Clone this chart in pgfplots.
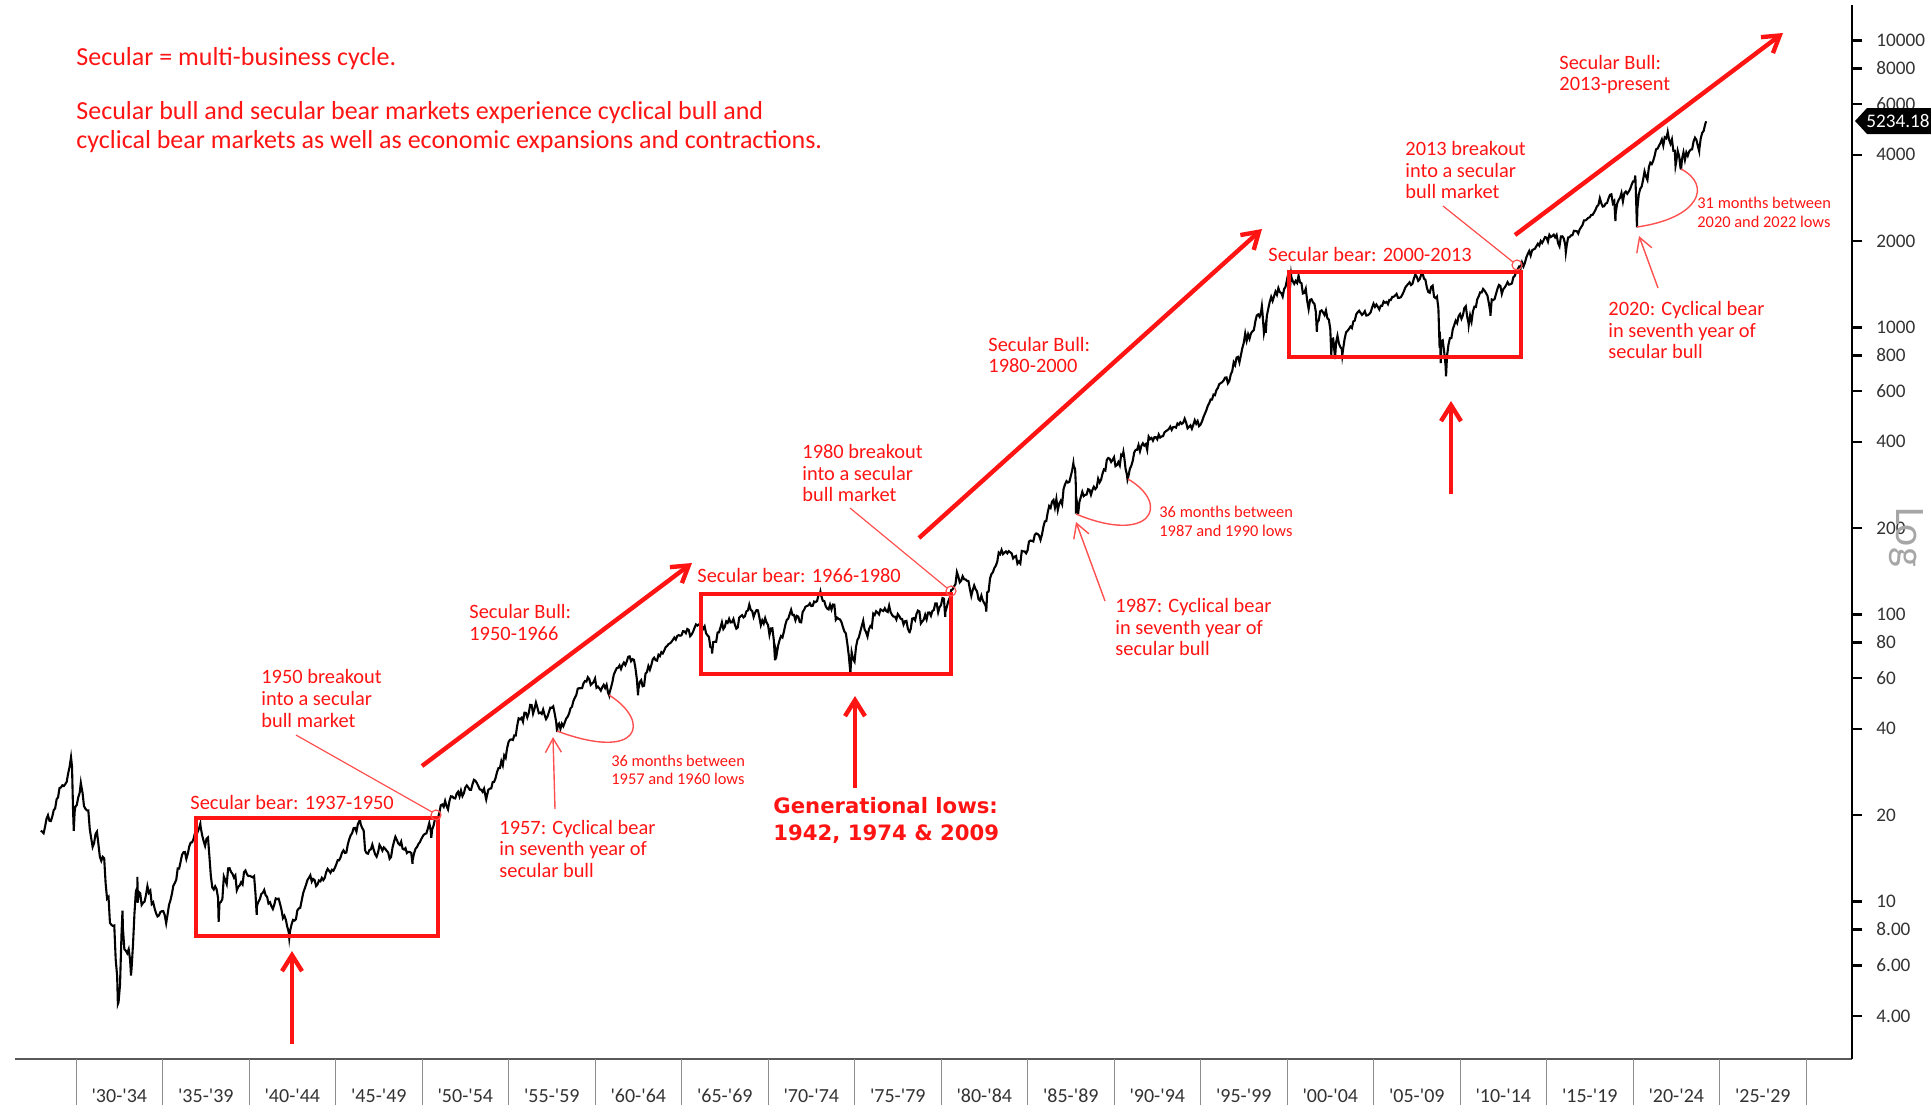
\documentclass[border=0pt]{standalone}
\usepackage{pgfplots}
\pgfplotsset{compat=1.18}
\usepackage{pgfplotstable}
\usepackage{fontspec}
\setmainfont{Carlito}
\newfontfamily\plainfont{Carlito}
\newfontfamily\dejavu{DejaVu Sans}
\usetikzlibrary{arrows.meta}
\definecolor{annred}{HTML}{FF1414}
\definecolor{thinred}{HTML}{FF5050}
\definecolor{tickgray}{HTML}{333333}

\pgfplotstableread[row sep=\\]{
Y M V\\
1927 11.5 17.66\\
1928 0.5 17.53\\ 1928 1.5 17.32\\ 1928 2.5 18.25\\ 1928 3.5 19.44\\ 1928 4.5 20.00\\ 1928 5.5 19.14\\ 1928 6.5 19.09\\ 1928 7.5 19.79\\ 1928 8.5 20.83\\ 1928 9.5 21.12\\ 1928 10.5 22.74\\ 1928 11.5 23.07\\
1929 0.5 24.86\\ 1929 1.5 24.99\\ 1929 2.5 25.43\\ 1929 3.5 25.28\\ 1929 4.5 25.66\\ 1929 5.5 26.15\\ 1929 6.5 27.95\\ 1929 7.5 29.48\\ 1929 8.5 31.86\\ 1929 9.2 29.50\\ 1929 9.9 21.00\\ 1929 10.4 17.66\\ 1929 11.0 20.50\\ 1929 11.5 21.40\\
1930 0.5 21.71\\ 1930 1.5 23.07\\ 1930 2.5 23.94\\ 1930 3.3 25.92\\ 1930 3.8 25.00\\ 1930 4.5 23.94\\ 1930 5.5 21.52\\ 1930 6.5 21.06\\ 1930 7.5 20.79\\ 1930 8.5 20.78\\ 1930 9.5 17.92\\ 1930 10.5 16.62\\ 1930 11.5 15.51\\
1931 0.5 15.98\\ 1931 1.5 17.20\\ 1931 2.5 17.53\\ 1931 3.5 15.86\\ 1931 4.5 14.33\\ 1931 5.5 13.87\\ 1931 6.5 14.33\\ 1931 7.5 14.16\\ 1931 8.5 11.59\\ 1931 9.5 10.25\\ 1931 10.5 10.39\\ 1931 11.5 8.44\\
1932 0.5 8.30\\ 1932 1.5 8.23\\ 1932 2.5 8.26\\ 1932 3.5 6.28\\ 1932 4.5 5.51\\ 1932 5.0 4.40\\ 1932 5.5 4.47\\ 1932 6.5 5.14\\ 1932 7.5 7.63\\ 1932 8.2 9.31\\ 1932 8.5 8.08\\ 1932 9.5 6.83\\ 1932 10.5 6.75\\ 1932 11.5 6.61\\
1933 0.5 6.83\\ 1933 1.5 6.25\\ 1933 2.1 5.53\\ 1933 2.5 5.85\\ 1933 3.5 7.09\\ 1933 4.5 9.08\\ 1933 5.5 10.88\\ 1933 6.5 11.19\\ 1933 6.55 12.20\\ 1933 6.7 9.90\\ 1933 7.5 10.81\\ 1933 8.5 10.68\\ 1933 9.5 9.74\\ 1933 10.5 9.91\\ 1933 11.5 10.00\\
1934 0.5 10.54\\ 1934 1.5 11.32\\ 1934 2.5 10.74\\ 1934 3.5 10.92\\ 1934 4.5 9.81\\ 1934 5.5 9.94\\ 1934 6.5 9.47\\ 1934 7.5 9.10\\ 1934 8.5 8.88\\ 1934 9.5 8.95\\ 1934 10.5 9.20\\ 1934 11.5 9.26\\
1935 0.5 9.26\\ 1935 1.5 8.98\\ 1935 2.5 8.41\\ 1935 3.5 9.04\\ 1935 4.5 9.75\\ 1935 5.5 10.12\\ 1935 6.5 10.65\\ 1935 7.5 11.37\\ 1935 8.5 11.61\\ 1935 9.5 11.92\\ 1935 10.5 13.04\\ 1935 11.5 13.04\\
1936 0.5 13.76\\ 1936 1.5 14.55\\ 1936 2.5 14.86\\ 1936 3.5 14.88\\ 1936 4.5 14.09\\ 1936 5.5 14.69\\ 1936 6.5 15.56\\ 1936 7.5 16.05\\ 1936 8.5 16.10\\ 1936 9.5 16.54\\ 1936 10.5 17.36\\ 1936 11.5 17.06\\
1937 0.5 17.59\\ 1937 1.5 18.11\\ 1937 2.2 18.68\\ 1937 2.5 18.09\\ 1937 3.5 17.01\\ 1937 4.5 16.25\\ 1937 5.5 15.64\\ 1937 6.5 16.57\\ 1937 7.5 16.74\\ 1937 8.5 14.37\\ 1937 9.5 12.28\\ 1937 10.5 11.20\\ 1937 11.5 11.02\\
1938 0.5 11.31\\ 1938 1.5 11.04\\ 1938 2.5 10.31\\ 1938 2.9 8.50\\ 1938 3.5 9.89\\ 1938 4.5 9.98\\ 1938 5.5 10.21\\ 1938 6.5 12.24\\ 1938 7.5 11.88\\ 1938 8.5 11.51\\ 1938 9.5 13.06\\ 1938 10.5 13.07\\ 1938 11.5 12.69\\
1939 0.5 12.50\\ 1939 1.5 12.13\\ 1939 2.5 12.34\\ 1939 3.5 10.96\\ 1939 4.5 11.26\\ 1939 5.5 11.39\\ 1939 6.5 11.68\\ 1939 7.5 11.48\\ 1939 8.5 12.67\\ 1939 9.5 12.84\\ 1939 10.5 12.47\\ 1939 11.5 12.28\\
1940 0.5 12.30\\ 1940 1.5 12.22\\ 1940 2.5 12.15\\ 1940 3.5 12.27\\ 1940 4.5 10.58\\ 1940 5.3 8.99\\ 1940 5.5 9.67\\ 1940 6.5 9.99\\ 1940 7.5 10.20\\ 1940 8.5 10.63\\ 1940 9.5 10.73\\ 1940 10.5 10.98\\ 1940 11.5 10.53\\
1941 0.5 10.39\\ 1941 1.5 9.85\\ 1941 2.5 9.95\\ 1941 3.5 9.64\\ 1941 4.5 9.43\\ 1941 5.5 9.76\\ 1941 6.5 10.26\\ 1941 7.5 10.21\\ 1941 8.5 10.24\\ 1941 9.5 9.83\\ 1941 10.5 9.37\\ 1941 11.5 8.76\\
1942 0.5 8.93\\ 1942 1.5 8.65\\ 1942 2.5 8.18\\ 1942 3.5 7.84\\ 1942 3.9 7.47\\ 1942 4.5 7.93\\ 1942 5.5 8.33\\ 1942 6.5 8.64\\ 1942 7.5 8.59\\ 1942 8.5 8.68\\ 1942 9.5 9.32\\ 1942 10.5 9.47\\ 1942 11.5 9.52\\
1943 0.5 10.09\\ 1943 1.5 10.69\\ 1943 2.5 11.07\\ 1943 3.5 11.44\\ 1943 4.5 11.89\\ 1943 5.5 12.10\\ 1943 6.5 12.35\\ 1943 7.5 11.74\\ 1943 8.5 11.99\\ 1943 9.5 11.88\\ 1943 10.5 11.33\\ 1943 11.5 11.48\\
1944 0.5 11.85\\ 1944 1.5 11.77\\ 1944 2.5 12.10\\ 1944 3.5 11.89\\ 1944 4.5 12.10\\ 1944 5.5 12.67\\ 1944 6.5 13.00\\ 1944 7.5 12.81\\ 1944 8.5 12.60\\ 1944 9.5 12.91\\ 1944 10.5 12.82\\ 1944 11.5 13.10\\
1945 0.5 13.49\\ 1945 1.5 13.94\\ 1945 2.5 13.93\\ 1945 3.5 14.28\\ 1945 4.5 14.82\\ 1945 5.5 15.09\\ 1945 6.5 14.78\\ 1945 7.5 14.83\\ 1945 8.5 15.84\\ 1945 9.5 16.50\\ 1945 10.5 17.04\\ 1945 11.5 17.33\\
1946 0.5 18.02\\ 1946 1.5 18.07\\ 1946 2.5 17.53\\ 1946 3.5 18.66\\ 1946 4.9 19.25\\ 1946 5.5 18.58\\ 1946 6.5 18.05\\ 1946 7.5 17.70\\ 1946 8.5 15.09\\ 1946 9.5 14.75\\ 1946 10.5 14.69\\ 1946 11.5 15.13\\
1947 0.5 15.21\\ 1947 1.5 15.80\\ 1947 2.5 15.16\\ 1947 3.5 14.60\\ 1947 4.5 14.34\\ 1947 5.5 14.84\\ 1947 6.5 15.77\\ 1947 7.5 15.46\\ 1947 8.5 15.06\\ 1947 9.5 15.45\\ 1947 10.5 15.27\\ 1947 11.5 15.03\\
1948 0.5 14.83\\ 1948 1.5 14.10\\ 1948 2.5 14.30\\ 1948 3.5 15.40\\ 1948 4.5 16.15\\ 1948 5.5 16.82\\ 1948 6.5 16.42\\ 1948 7.5 15.94\\ 1948 8.5 15.76\\ 1948 9.5 16.19\\ 1948 10.5 15.29\\ 1948 11.5 15.19\\
1949 0.5 15.36\\ 1949 1.5 14.77\\ 1949 2.5 14.91\\ 1949 3.5 14.89\\ 1949 4.5 14.78\\ 1949 5.4 13.55\\ 1949 5.5 13.97\\ 1949 6.5 14.76\\ 1949 7.5 15.29\\ 1949 8.5 15.49\\ 1949 9.5 15.89\\ 1949 10.5 16.11\\ 1949 11.5 16.54\\
1950 1 17.05\\ 1950 2 17.22\\ 1950 3 17.29\\ 1950 4 17.96\\ 1950 5 18.78\\ 1950 6 17.69\\ 1950 6.4 16.68\\ 1950 7 17.84\\ 1950 8 18.42\\ 1950 9 19.45\\ 1950 10 19.53\\ 1950 11 19.51\\ 1950 12 20.41\\
1951 1 21.66\\ 1951 2 21.80\\ 1951 3 21.40\\ 1951 4 22.43\\ 1951 5 21.52\\ 1951 6 20.96\\ 1951 7 22.40\\ 1951 8 23.28\\ 1951 9 23.26\\ 1951 10 22.94\\ 1951 11 22.88\\ 1951 12 23.77\\
1952 1 24.14\\ 1952 2 23.26\\ 1952 3 24.37\\ 1952 4 23.32\\ 1952 5 23.86\\ 1952 6 24.96\\ 1952 7 25.40\\ 1952 8 25.03\\ 1952 9 24.54\\ 1952 10 24.52\\ 1952 11 25.66\\ 1952 12 26.57\\
1953 1 26.38\\ 1953 2 25.90\\ 1953 3 25.29\\ 1953 4 24.62\\ 1953 5 24.54\\ 1953 6 24.14\\ 1953 7 24.75\\ 1953 8 23.32\\ 1953 8.5 22.71\\ 1953 9 23.35\\ 1953 10 24.54\\ 1953 11 24.76\\ 1953 12 24.81\\
1954 1 26.08\\ 1954 2 26.15\\ 1954 3 26.94\\ 1954 4 28.26\\ 1954 5 29.19\\ 1954 6 29.21\\ 1954 7 30.88\\ 1954 8 29.83\\ 1954 9 32.31\\ 1954 10 31.68\\ 1954 11 34.24\\ 1954 12 35.98\\
1955 1 36.63\\ 1955 2 36.76\\ 1955 3 36.58\\ 1955 4 37.96\\ 1955 5 37.91\\ 1955 6 41.03\\ 1955 7 43.52\\ 1955 8 43.18\\ 1955 9 43.67\\ 1955 10 42.34\\ 1955 11 45.51\\ 1955 12 45.48\\
1956 1 43.82\\ 1956 2 45.34\\ 1956 3 48.48\\ 1956 4 48.38\\ 1956 5 45.20\\ 1956 6 46.97\\ 1956 7 49.39\\ 1956 8 47.51\\ 1956 9 45.35\\ 1956 10 45.58\\ 1956 11 45.08\\ 1956 12 46.67\\
1957 1 44.72\\ 1957 2 43.26\\ 1957 3 44.11\\ 1957 4 45.74\\ 1957 5 47.43\\ 1957 6 47.37\\ 1957 7 47.91\\ 1957 8 45.22\\ 1957 9 42.42\\ 1957 9.7 38.98\\ 1957 10 41.06\\ 1957 11 41.72\\ 1957 12 39.99\\
1958 1 41.70\\ 1958 2 40.84\\ 1958 3 42.10\\ 1958 4 43.44\\ 1958 5 44.09\\ 1958 6 45.24\\ 1958 7 47.19\\ 1958 8 47.75\\ 1958 9 50.06\\ 1958 10 51.33\\ 1958 11 52.48\\ 1958 12 55.21\\
1959 1 55.42\\ 1959 2 55.41\\ 1959 3 55.44\\ 1959 4 57.59\\ 1959 5 58.68\\ 1959 6 58.47\\ 1959 7 60.51\\ 1959 8 59.60\\ 1959 9 56.88\\ 1959 10 57.52\\ 1959 11 58.28\\ 1959 12 59.89\\
1960 1 55.61\\ 1960 2 56.12\\ 1960 3 55.34\\ 1960 4 54.37\\ 1960 5 55.83\\ 1960 6 56.92\\ 1960 7 55.51\\ 1960 8 56.96\\ 1960 9 53.52\\ 1960 9.8 52.30\\ 1960 10 53.39\\ 1960 11 55.54\\ 1960 12 58.11\\
1961 1 61.78\\ 1961 2 63.44\\ 1961 3 65.06\\ 1961 4 65.31\\ 1961 5 66.56\\ 1961 6 64.64\\ 1961 7 66.76\\ 1961 8 68.07\\ 1961 9 66.73\\ 1961 10 68.62\\ 1961 11 71.32\\ 1961 12 71.55\\
1962 1 68.84\\ 1962 2 69.96\\ 1962 3 69.55\\ 1962 4 65.24\\ 1962 5 59.63\\ 1962 5.85 52.32\\ 1962 6 54.75\\ 1962 7 58.23\\ 1962 8 59.12\\ 1962 9 56.27\\ 1962 10 56.52\\ 1962 11 62.26\\ 1962 12 63.10\\
1963 1 66.20\\ 1963 2 64.29\\ 1963 3 66.57\\ 1963 4 69.80\\ 1963 5 70.80\\ 1963 6 69.37\\ 1963 7 69.13\\ 1963 8 72.50\\ 1963 9 71.70\\ 1963 10 74.01\\ 1963 11 73.23\\ 1963 12 75.02\\
1964 1 77.04\\ 1964 2 77.80\\ 1964 3 78.98\\ 1964 4 79.46\\ 1964 5 80.37\\ 1964 6 81.69\\ 1964 7 83.18\\ 1964 8 81.83\\ 1964 9 84.18\\ 1964 10 84.86\\ 1964 11 84.42\\ 1964 12 84.75\\
1965 1 87.56\\ 1965 2 87.43\\ 1965 3 86.16\\ 1965 4 89.11\\ 1965 5 88.42\\ 1965 6 84.12\\ 1965 7 85.25\\ 1965 8 87.17\\ 1965 9 89.96\\ 1965 10 92.42\\ 1965 11 91.61\\ 1965 12 92.43\\
1966 1 92.88\\ 1966 1.3 94.06\\ 1966 2 91.22\\ 1966 3 89.23\\ 1966 4 91.06\\ 1966 5 86.13\\ 1966 6 84.74\\ 1966 7 83.60\\ 1966 8 77.10\\ 1966 9 76.56\\ 1966 9.2 73.20\\ 1966 10 80.20\\ 1966 11 80.45\\ 1966 12 80.33\\
1967 1 86.61\\ 1967 2 86.78\\ 1967 3 90.20\\ 1967 4 94.01\\ 1967 5 89.08\\ 1967 6 90.64\\ 1967 7 94.75\\ 1967 8 93.64\\ 1967 9 96.71\\ 1967 10 93.90\\ 1967 11 94.00\\ 1967 12 96.47\\
1968 1 92.24\\ 1968 2 89.36\\ 1968 3 90.20\\ 1968 4 97.59\\ 1968 5 98.68\\ 1968 6 99.58\\ 1968 7 97.74\\ 1968 8 98.86\\ 1968 9 102.67\\ 1968 10 103.41\\ 1968 11 108.37\\ 1968 12 103.86\\
1969 1 103.01\\ 1969 2 98.13\\ 1969 3 101.51\\ 1969 4 103.69\\ 1969 5 103.46\\ 1969 6 97.71\\ 1969 7 91.83\\ 1969 8 95.51\\ 1969 9 93.12\\ 1969 10 97.24\\ 1969 11 93.81\\ 1969 12 92.06\\
1970 1 85.02\\ 1970 2 89.50\\ 1970 3 89.63\\ 1970 4 81.52\\ 1970 4.85 69.29\\ 1970 5 76.55\\ 1970 6 72.72\\ 1970 7 78.05\\ 1970 8 81.52\\ 1970 9 84.21\\ 1970 10 83.25\\ 1970 11 87.20\\ 1970 12 92.15\\
1971 1 95.88\\ 1971 2 96.75\\ 1971 3 100.31\\ 1971 4 103.95\\ 1971 5 99.63\\ 1971 6 99.70\\ 1971 7 95.58\\ 1971 8 99.03\\ 1971 9 98.34\\ 1971 10 94.23\\ 1971 11 93.99\\ 1971 12 102.09\\
1972 1 103.94\\ 1972 2 106.57\\ 1972 3 107.20\\ 1972 4 107.67\\ 1972 5 109.53\\ 1972 6 107.14\\ 1972 7 107.39\\ 1972 8 111.09\\ 1972 9 110.55\\ 1972 10 111.58\\ 1972 11 116.67\\ 1972 12 118.05\\
1973 0.35 120.24\\ 1973 1 116.03\\ 1973 2 111.68\\ 1973 3 111.52\\ 1973 4 106.97\\ 1973 5 104.95\\ 1973 6 104.26\\ 1973 7 108.22\\ 1973 8 104.25\\ 1973 9 108.43\\ 1973 10 108.29\\ 1973 11 95.96\\ 1973 12 97.55\\
1974 1 96.57\\ 1974 2 96.22\\ 1974 3 93.98\\ 1974 4 90.31\\ 1974 5 87.28\\ 1974 6 86.00\\ 1974 7 79.31\\ 1974 8 72.15\\ 1974 9 63.54\\ 1974 9.1 62.28\\ 1974 10 73.90\\ 1974 11 69.97\\ 1974 12 68.56\\
1975 1 76.98\\ 1975 2 81.59\\ 1975 3 83.36\\ 1975 4 87.30\\ 1975 5 91.15\\ 1975 6 95.19\\ 1975 7 88.75\\ 1975 8 86.88\\ 1975 9 83.87\\ 1975 10 89.04\\ 1975 11 91.24\\ 1975 12 90.19\\
1976 1 100.86\\ 1976 2 99.71\\ 1976 3 102.77\\ 1976 4 101.64\\ 1976 5 100.18\\ 1976 6 104.28\\ 1976 7 103.44\\ 1976 8 102.91\\ 1976 9 105.24\\ 1976 10 102.90\\ 1976 11 102.10\\ 1976 12 107.46\\
1977 1 102.03\\ 1977 2 99.82\\ 1977 3 98.42\\ 1977 4 98.44\\ 1977 5 96.12\\ 1977 6 100.48\\ 1977 7 98.85\\ 1977 8 96.77\\ 1977 9 96.53\\ 1977 10 92.34\\ 1977 11 94.83\\ 1977 12 95.10\\
1978 1 89.25\\ 1978 2 87.04\\ 1978 2.2 86.90\\ 1978 3 89.21\\ 1978 4 96.83\\ 1978 5 97.24\\ 1978 6 95.53\\ 1978 7 100.68\\ 1978 8 103.29\\ 1978 9 102.54\\ 1978 10 93.15\\ 1978 11 94.70\\ 1978 12 96.11\\
1979 1 99.93\\ 1979 2 96.28\\ 1979 3 101.59\\ 1979 4 101.76\\ 1979 5 99.08\\ 1979 6 102.91\\ 1979 7 103.81\\ 1979 8 109.32\\ 1979 9 109.32\\ 1979 10 101.82\\ 1979 11 106.16\\ 1979 12 107.94\\
1980 1 114.16\\ 1980 2 113.66\\ 1980 2.9 98.22\\ 1980 3 102.09\\ 1980 4 106.29\\ 1980 5 111.24\\ 1980 6 114.24\\ 1980 7 121.67\\ 1980 8 122.38\\ 1980 9 125.46\\ 1980 10 127.47\\ 1980 11 140.52\\ 1980 12 135.76\\
1981 1 129.55\\ 1981 2 131.27\\ 1981 3 136.00\\ 1981 4 132.81\\ 1981 5 132.59\\ 1981 6 131.21\\ 1981 7 130.92\\ 1981 8 122.79\\ 1981 9 116.18\\ 1981 10 121.89\\ 1981 11 126.35\\ 1981 12 122.55\\
1982 1 120.40\\ 1982 2 113.11\\ 1982 3 111.96\\ 1982 4 116.44\\ 1982 5 111.88\\ 1982 6 109.61\\ 1982 7 107.09\\ 1982 7.4 102.42\\ 1982 8 119.51\\ 1982 9 120.42\\ 1982 10 133.71\\ 1982 11 138.54\\ 1982 12 140.64\\
1983 1 145.30\\ 1983 2 148.06\\ 1983 3 152.96\\ 1983 4 164.42\\ 1983 5 162.39\\ 1983 6 168.11\\ 1983 7 162.56\\ 1983 8 164.40\\ 1983 9 166.07\\ 1983 10 163.55\\ 1983 11 166.40\\ 1983 12 164.93\\
1984 1 163.41\\ 1984 2 157.06\\ 1984 3 159.18\\ 1984 4 160.05\\ 1984 5 150.55\\ 1984 6 153.18\\ 1984 7 150.66\\ 1984 8 166.68\\ 1984 9 166.10\\ 1984 10 166.09\\ 1984 11 163.58\\ 1984 12 167.24\\
1985 1 179.63\\ 1985 2 181.18\\ 1985 3 180.66\\ 1985 4 179.83\\ 1985 5 189.55\\ 1985 6 191.85\\ 1985 7 190.92\\ 1985 8 188.63\\ 1985 9 182.08\\ 1985 10 189.82\\ 1985 11 202.17\\ 1985 12 211.28\\
1986 1 211.78\\ 1986 2 226.92\\ 1986 3 238.90\\ 1986 4 235.52\\ 1986 5 247.35\\ 1986 6 250.84\\ 1986 7 236.12\\ 1986 8 252.93\\ 1986 9 231.32\\ 1986 10 243.98\\ 1986 11 249.22\\ 1986 12 242.17\\
1987 1 274.08\\ 1987 2 284.20\\ 1987 3 291.70\\ 1987 4 288.36\\ 1987 5 290.10\\ 1987 6 304.00\\ 1987 7 318.66\\ 1987 7.8 336.77\\ 1987 8 329.80\\ 1987 9 321.83\\ 1987 9.5 282.70\\ 1987 9.6 224.84\\ 1987 9.7 258.38\\ 1987 10 251.79\\ 1987 11 230.30\\ 1987 11.1 223.92\\ 1987 12 247.08\\
1988 1 257.07\\ 1988 2 267.82\\ 1988 3 258.89\\ 1988 4 261.33\\ 1988 5 262.16\\ 1988 6 273.50\\ 1988 7 272.02\\ 1988 8 261.52\\ 1988 9 271.91\\ 1988 10 278.97\\ 1988 11 273.70\\ 1988 12 277.72\\
1989 1 297.47\\ 1989 2 288.86\\ 1989 3 294.87\\ 1989 4 309.64\\ 1989 5 320.52\\ 1989 6 317.98\\ 1989 7 346.08\\ 1989 8 351.45\\ 1989 9 349.15\\ 1989 10 340.36\\ 1989 11 345.99\\ 1989 12 353.40\\
1990 1 329.08\\ 1990 2 331.89\\ 1990 3 339.94\\ 1990 4 330.80\\ 1990 5 361.23\\ 1990 6 358.02\\ 1990 6.5 368.95\\ 1990 7 356.15\\ 1990 8 322.56\\ 1990 9 306.05\\ 1990 9.35 295.46\\ 1990 10 304.00\\ 1990 11 322.22\\ 1990 12 330.22\\
1991 1 343.93\\ 1991 2 367.07\\ 1991 3 375.22\\ 1991 4 375.35\\ 1991 5 389.83\\ 1991 6 371.16\\ 1991 7 387.81\\ 1991 8 395.43\\ 1991 9 387.86\\ 1991 10 392.46\\ 1991 11 375.22\\ 1991 12 417.09\\
1992 1 408.79\\ 1992 2 412.70\\ 1992 3 403.69\\ 1992 4 414.95\\ 1992 5 415.35\\ 1992 6 408.14\\ 1992 7 424.21\\ 1992 8 414.03\\ 1992 9 417.80\\ 1992 10 418.68\\ 1992 11 431.35\\ 1992 12 435.71\\
1993 1 438.78\\ 1993 2 443.38\\ 1993 3 451.67\\ 1993 4 440.19\\ 1993 5 450.19\\ 1993 6 450.53\\ 1993 7 448.13\\ 1993 8 463.56\\ 1993 9 458.93\\ 1993 10 467.83\\ 1993 11 461.79\\ 1993 12 466.45\\
1994 1 481.61\\ 1994 2 467.14\\ 1994 3 445.77\\ 1994 4 450.91\\ 1994 5 456.50\\ 1994 6 444.27\\ 1994 7 458.26\\ 1994 8 475.49\\ 1994 9 462.69\\ 1994 10 472.35\\ 1994 11 453.69\\ 1994 12 459.27\\
1995 1 470.42\\ 1995 2 487.39\\ 1995 3 500.71\\ 1995 4 514.71\\ 1995 5 533.40\\ 1995 6 544.75\\ 1995 7 562.06\\ 1995 8 561.88\\ 1995 9 584.41\\ 1995 10 581.50\\ 1995 11 605.37\\ 1995 12 615.93\\
1996 1 636.02\\ 1996 2 640.43\\ 1996 3 645.50\\ 1996 4 654.17\\ 1996 5 669.12\\ 1996 6 670.63\\ 1996 7 639.95\\ 1996 8 651.99\\ 1996 9 687.31\\ 1996 10 705.27\\ 1996 11 757.02\\ 1996 12 740.74\\
1997 1 786.16\\ 1997 2 790.82\\ 1997 3 757.12\\ 1997 4 801.34\\ 1997 5 848.28\\ 1997 6 885.14\\ 1997 7 954.29\\ 1997 8 899.47\\ 1997 9 947.28\\ 1997 10 914.62\\ 1997 11 955.40\\ 1997 12 970.43\\
1998 1 980.28\\ 1998 2 1049.34\\ 1998 3 1101.75\\ 1998 4 1111.75\\ 1998 5 1090.82\\ 1998 6 1133.84\\ 1998 6.55 1186.75\\ 1998 7 1120.67\\ 1998 8 957.28\\ 1998 9 1017.01\\ 1998 9.25 959.44\\ 1998 10 1098.67\\ 1998 11 1163.63\\ 1998 12 1229.23\\
1999 1 1279.64\\ 1999 2 1238.33\\ 1999 3 1286.37\\ 1999 4 1335.18\\ 1999 5 1301.84\\ 1999 6 1372.71\\ 1999 7 1328.72\\ 1999 8 1320.41\\ 1999 9 1282.71\\ 1999 10 1362.93\\ 1999 11 1388.91\\ 1999 12 1469.25\\
2000 1 1394.46\\ 2000 2 1366.42\\ 2000 2.8 1527.46\\ 2000 3 1498.58\\ 2000 4 1452.43\\ 2000 5 1420.60\\ 2000 6 1454.60\\ 2000 7 1430.83\\ 2000 8 1517.68\\ 2000 9 1436.51\\ 2000 10 1429.40\\ 2000 11 1314.95\\ 2000 12 1320.28\\
2001 1 1366.01\\ 2001 2 1239.94\\ 2001 3 1160.33\\ 2001 4 1249.46\\ 2001 5 1255.82\\ 2001 6 1224.38\\ 2001 7 1211.23\\ 2001 8 1133.58\\ 2001 8.7 965.80\\ 2001 9 1040.94\\ 2001 10 1059.78\\ 2001 11 1139.45\\ 2001 12 1148.08\\
2002 1 1130.20\\ 2002 2 1106.73\\ 2002 3 1147.39\\ 2002 4 1076.92\\ 2002 5 1067.14\\ 2002 6 989.82\\ 2002 6.75 797.70\\ 2002 7 911.62\\ 2002 8 916.07\\ 2002 9 815.28\\ 2002 9.3 776.76\\ 2002 10 885.76\\ 2002 11 936.31\\ 2002 12 879.82\\
2003 1 855.70\\ 2003 2 841.15\\ 2003 2.35 800.73\\ 2003 3 848.18\\ 2003 4 916.92\\ 2003 5 963.59\\ 2003 6 974.50\\ 2003 7 990.31\\ 2003 8 1008.01\\ 2003 9 995.97\\ 2003 10 1050.71\\ 2003 11 1058.20\\ 2003 12 1111.92\\
2004 1 1131.13\\ 2004 2 1144.94\\ 2004 3 1126.21\\ 2004 4 1107.30\\ 2004 5 1120.68\\ 2004 6 1140.84\\ 2004 7 1101.72\\ 2004 8 1104.24\\ 2004 9 1114.58\\ 2004 10 1130.20\\ 2004 11 1173.82\\ 2004 12 1211.92\\
2005 1 1181.27\\ 2005 2 1203.60\\ 2005 3 1180.59\\ 2005 4 1156.85\\ 2005 5 1191.50\\ 2005 6 1191.33\\ 2005 7 1234.18\\ 2005 8 1220.33\\ 2005 9 1228.81\\ 2005 10 1207.01\\ 2005 11 1249.48\\ 2005 12 1248.29\\
2006 1 1280.08\\ 2006 2 1280.66\\ 2006 3 1294.83\\ 2006 4 1310.61\\ 2006 5 1270.09\\ 2006 6 1270.20\\ 2006 7 1276.66\\ 2006 8 1303.82\\ 2006 9 1335.85\\ 2006 10 1377.94\\ 2006 11 1400.63\\ 2006 12 1418.30\\
2007 1 1438.24\\ 2007 2 1406.82\\ 2007 3 1420.86\\ 2007 4 1482.37\\ 2007 5 1530.62\\ 2007 6 1503.35\\ 2007 7 1455.27\\ 2007 8 1473.99\\ 2007 9 1526.75\\ 2007 9.3 1565.15\\ 2007 10 1549.38\\ 2007 11 1481.14\\ 2007 12 1468.36\\
2008 1 1378.55\\ 2008 2 1330.63\\ 2008 3 1322.70\\ 2008 4 1385.59\\ 2008 5 1400.38\\ 2008 6 1280.00\\ 2008 7 1267.38\\ 2008 8 1282.83\\ 2008 9 1166.36\\ 2008 9.85 848.92\\ 2008 10 968.75\\ 2008 10.65 752.44\\ 2008 11 896.24\\ 2008 12 903.25\\
2009 1 825.88\\ 2009 2 735.09\\ 2009 2.3 676.53\\ 2009 3 797.87\\ 2009 4 872.81\\ 2009 5 919.14\\ 2009 6 919.32\\ 2009 7 987.48\\ 2009 8 1020.62\\ 2009 9 1057.08\\ 2009 10 1036.19\\ 2009 11 1095.63\\ 2009 12 1115.10\\
2010 1 1073.87\\ 2010 2 1104.49\\ 2010 3 1169.43\\ 2010 4 1186.69\\ 2010 5 1089.41\\ 2010 6 1030.71\\ 2010 6.05 1022.58\\ 2010 7 1101.60\\ 2010 8 1049.33\\ 2010 9 1141.20\\ 2010 10 1183.26\\ 2010 11 1180.55\\ 2010 12 1257.64\\
2011 1 1286.12\\ 2011 2 1327.22\\ 2011 3 1325.83\\ 2011 4 1363.61\\ 2011 5 1345.20\\ 2011 6 1320.64\\ 2011 7 1292.28\\ 2011 8 1218.89\\ 2011 9 1131.42\\ 2011 9.1 1099.23\\ 2011 10 1253.30\\ 2011 11 1246.96\\ 2011 12 1257.60\\
2012 1 1312.41\\ 2012 2 1365.68\\ 2012 3 1408.47\\ 2012 4 1397.91\\ 2012 5 1310.33\\ 2012 6 1362.16\\ 2012 7 1379.32\\ 2012 8 1406.58\\ 2012 9 1440.67\\ 2012 10 1412.16\\ 2012 11 1416.18\\ 2012 12 1426.19\\
2013 1 1498.11\\ 2013 2 1514.68\\ 2013 3 1569.19\\ 2013 4 1597.57\\ 2013 5 1630.74\\ 2013 6 1606.28\\ 2013 7 1685.73\\ 2013 8 1632.97\\ 2013 9 1681.55\\ 2013 10 1756.54\\ 2013 11 1805.81\\ 2013 12 1848.36\\
2014 1 1782.59\\ 2014 2 1859.45\\ 2014 3 1872.34\\ 2014 4 1883.95\\ 2014 5 1923.57\\ 2014 6 1960.23\\ 2014 7 1930.67\\ 2014 8 2003.37\\ 2014 9 1972.29\\ 2014 10 2018.05\\ 2014 11 2067.56\\ 2014 12 2058.90\\
2015 1 1994.99\\ 2015 2 2104.50\\ 2015 3 2067.89\\ 2015 4 2085.51\\ 2015 5 2107.39\\ 2015 6 2063.11\\ 2015 7 2103.84\\ 2015 8 1972.18\\ 2015 9 1920.03\\ 2015 10 2079.36\\ 2015 11 2080.41\\ 2015 12 2043.94\\
2016 1 1940.24\\ 2016 1.4 1829.08\\ 2016 2 1932.23\\ 2016 3 2059.74\\ 2016 4 2065.30\\ 2016 5 2096.95\\ 2016 6 2098.86\\ 2016 7 2173.60\\ 2016 8 2170.95\\ 2016 9 2168.27\\ 2016 10 2126.15\\ 2016 11 2198.81\\ 2016 12 2238.83\\
2017 1 2278.87\\ 2017 2 2363.64\\ 2017 3 2362.72\\ 2017 4 2384.20\\ 2017 5 2411.80\\ 2017 6 2423.41\\ 2017 7 2470.30\\ 2017 8 2471.65\\ 2017 9 2519.36\\ 2017 10 2575.26\\ 2017 11 2647.58\\ 2017 12 2673.61\\
2018 1 2823.81\\ 2018 2 2713.83\\ 2018 3 2640.87\\ 2018 4 2648.05\\ 2018 5 2705.27\\ 2018 6 2718.37\\ 2018 7 2816.29\\ 2018 8 2901.52\\ 2018 9 2913.98\\ 2018 10 2711.74\\ 2018 11 2760.17\\ 2018 11.8 2351.10\\ 2018 12 2506.85\\
2019 1 2704.10\\ 2019 2 2784.49\\ 2019 3 2834.40\\ 2019 4 2945.83\\ 2019 5 2752.06\\ 2019 6 2941.76\\ 2019 7 2980.38\\ 2019 8 2926.46\\ 2019 9 2976.74\\ 2019 10 3037.56\\ 2019 11 3140.98\\ 2019 12 3230.78\\
2020 1 3225.52\\ 2020 1.6 3386.15\\ 2020 2 2954.22\\ 2020 2.75 2237.40\\ 2020 3 2584.59\\ 2020 4 2912.43\\ 2020 5 3044.31\\ 2020 6 3100.29\\ 2020 7 3271.12\\ 2020 8 3500.31\\ 2020 9 3363.00\\ 2020 10 3269.96\\ 2020 11 3621.63\\ 2020 12 3756.07\\
2021 1 3714.24\\ 2021 2 3811.15\\ 2021 3 3972.89\\ 2021 4 4181.17\\ 2021 5 4204.11\\ 2021 6 4297.50\\ 2021 7 4395.26\\ 2021 8 4522.68\\ 2021 9 4307.54\\ 2021 10 4605.38\\ 2021 11 4567.00\\ 2021 12 4766.18\\
2022 0.1 4796.56\\ 2022 1 4515.55\\ 2022 2 4373.94\\ 2022 3 4530.41\\ 2022 4 4131.93\\ 2022 5 4132.15\\ 2022 5.5 3666.77\\ 2022 6 3785.38\\ 2022 7 4130.29\\ 2022 8 3955.00\\ 2022 9 3585.62\\ 2022 9.4 3577.03\\ 2022 10 3871.98\\ 2022 11 4080.11\\ 2022 12 3839.50\\
2023 1 4076.60\\ 2023 2 3970.15\\ 2023 3 4109.31\\ 2023 4 4169.48\\ 2023 5 4179.83\\ 2023 6 4450.38\\ 2023 7 4588.96\\ 2023 8 4507.66\\ 2023 9 4288.05\\ 2023 9.9 4117.37\\ 2023 10 4193.80\\ 2023 11 4567.80\\ 2023 12 4769.83\\
2024 1 4845.65\\ 2024 2 5096.27\\ 2024 2.73 5234.18\\
}\spx

\newcommand\fs[1]{\fontsize{#1}{#1}\selectfont}
\tikzset{
  tl/.style={anchor=base west, inner sep=0pt, text=annred, font=\fs{13}},
  an/.style={anchor=base west, inner sep=0pt, text=annred, font=\fs{10.2}},
  sm/.style={anchor=base west, inner sep=0pt, text=annred, font=\fs{8.2}},
  gl/.style={anchor=base west, inner sep=0pt, text=annred, font=\dejavu\bfseries\fs{10.6}},
  bigarr/.style={draw=annred, line width=2.2pt, -{Straight Barb[length=8pt,width=10pt]}},
  thinarr/.style={draw=thinred, line width=0.7pt, -{Straight Barb[length=7pt,width=8pt]}},
  thin/.style={draw=thinred, line width=0.6pt},
  boxst/.style={draw=annred, line width=2.2pt},
}

\begin{document}
\begin{tikzpicture}
\begin{axis}[
  at={(7.5pt,-2.5pt)}, anchor=north west,
  scale only axis, width=918.5pt, height=527pt,
  xmin=1926.47, xmax=2032.66, ymin=2.829, ymax=13305,
  ymode=log,
  axis x line*=bottom, axis y line*=right,
  x axis line style={draw=black!65, line width=0.8pt, -},
  y axis line style={draw=black, line width=0.8pt, -},
  xtick={1930,1935,...,2030},
  x tick label as interval,
  xticklabels={'30-'34,'35-'39,'40-'44,'45-'49,'50-'54,'55-'59,'60-'64,'65-'69,'70-'74,'75-'79,'80-'84,'85-'89,'90-'94,'95-'99,'00-'04,'05-'09,'10-'14,'15-'19,'20-'24,'25-'29},
  xtick style={draw=none},
  xticklabel style={anchor=center, font=\plainfont\fs{10}, text=tickgray},
  xticklabel shift=18.5pt,
  ytick={4,6,8,10,20,40,60,80,100,200,400,600,800,1000,2000,4000,6000,8000,10000},
  yticklabels={4.00,6.00,8.00,10,20,40,60,80,100,200,400,600,800,1000,2000,4000,6000,8000,10000},
  yminorticks=false,
  ytick align=outside, major tick length=5pt,
  ytick style={line width=1.2pt, black},
  yticklabel style={anchor=west, inner xsep=0pt, font=\fs{9.6}, text=tickgray},
  yticklabel shift=7pt,
]
\addplot[black, line width=1.05pt] table[x expr=\thisrow{Y}+\thisrow{M}/12, y=V] {\spx};
\end{axis}

\begin{scope}[x=0.5pt,y=-0.5pt]
% separators below the axis
\foreach \k in {0,...,20} \draw[black!45, line width=0.5pt] ({76+86.5*\k},1059) -- ({76+86.5*\k},1105);

% top-left text
\node[tl] at (76,65) {Secular = multi-business cycle.};
\node[tl] at (76,119.5) {Secular bull and secular bear markets experience cyclical bull and};
\node[tl] at (76,148) {cyclical bear markets as well as economic expansions and contractions.};

% boxes
\draw[boxst] (196,818) rectangle (438,936);
\draw[boxst] (701,594) rectangle (951,674);
\draw[boxst] (1289,272) rectangle (1521,357);
\node[an] at (190,809) {Secular bear: 1937-1950};
\node[an] at (697,582.5) {Secular bear: 1966-1980};
\node[an] at (1268,261) {Secular bear: 2000-2013};

% big arrows
\draw[bigarr] (292,1044) -- (292,951);
\draw[bigarr] (855,788) -- (855,696);
\draw[bigarr] (1451,494) -- (1451,401);
\draw[bigarr] (422,766) -- (692,563);
\draw[bigarr] (919,538) -- (1262,229);
\draw[bigarr] (1515,235) -- (1783,33);

% secular bull labels
\node[an] at (469,618) {Secular Bull:};
\node[an] at (469,640) {1950-1966};
\node[an] at (988,351) {Secular Bull:};
\node[an] at (988,372) {1980-2000};
\node[an] at (1559,69) {Secular Bull:};
\node[an] at (1559,90) {2013-present};

% breakouts
\node[an] at (261,683.5) {1950 breakout};
\node[an] at (261,705.6) {into a secular};
\node[an] at (261,727.8) {bull market};
\draw[thin] (296,735) -- (432,812);
\draw[thin] (436,815) circle[radius=2.5pt];
\node[an] at (802,458) {1980 breakout};
\node[an] at (802,480) {into a secular};
\node[an] at (802,501) {bull market};
\draw[thin] (850,508) -- (947,588);
\draw[thin] (951,591) circle[radius=2.5pt];
\node[an] at (1405,155) {2013 breakout};
\node[an] at (1405,177) {into a secular};
\node[an] at (1405,198) {bull market};
\draw[thin] (1443,206) -- (1513,262);
\draw[thin] (1517,265) circle[radius=2.5pt];

% cyclical bears
\node[an] at (499,834) {1957: Cyclical bear};
\node[an] at (499,855) {in seventh year of};
\node[an] at (499,877) {secular bull};
\draw[thinarr] (555,809) -- (553,737);
\node[an] at (1115,612) {1987: Cyclical bear};
\node[an] at (1115,634) {in seventh year of};
\node[an] at (1115,655) {secular bull};
\draw[thinarr] (1105,601) -- (1076,522);
\node[an] at (1608,315) {2020: Cyclical bear};
\node[an] at (1608,337) {in seventh year of};
\node[an] at (1608,358) {secular bull};
\draw[thinarr] (1658,288) -- (1639,236);

% month loops
\draw[thin, line width=0.7pt] (557,731) .. controls (640,762) and (652,722) .. (609,695);
\node[sm] at (611,766) {36 months between};
\node[sm] at (611,784.5) {1957 and 1960 lows};
\draw[thin, line width=0.7pt] (1076,514) .. controls (1150,545) and (1172,505) .. (1128,479);
\node[sm] at (1159,517) {36 months between};
\node[sm] at (1159,536) {1987 and 1990 lows};
\draw[thin, line width=0.7pt] (1637,227) .. controls (1700,218) and (1712,185) .. (1681,169);
\node[sm] at (1697,208) {31 months between};
\node[sm] at (1697,227) {2020 and 2022 lows};

% generational lows
\node[gl] at (773,813) {Generational lows:};
\node[gl] at (773,840) {1942, 1974 \& 2009};

% last value badge
\fill[black] (1855,121) -- (1867,108) -- (1931,108) -- (1931,134) -- (1867,134) -- cycle;
\node[text=white, font=\fs{9.6}, inner sep=0pt] at (1898,121) {5234.18};

% Log label
\node[rotate=-90, text=black!35, font=\fs{21}, inner sep=0pt] at (1906,537) {Log};
\end{scope}

\pgfresetboundingbox
\path[use as bounding box] (0,0) rectangle (965.5pt,-555pt);
\end{tikzpicture}
\end{document}
